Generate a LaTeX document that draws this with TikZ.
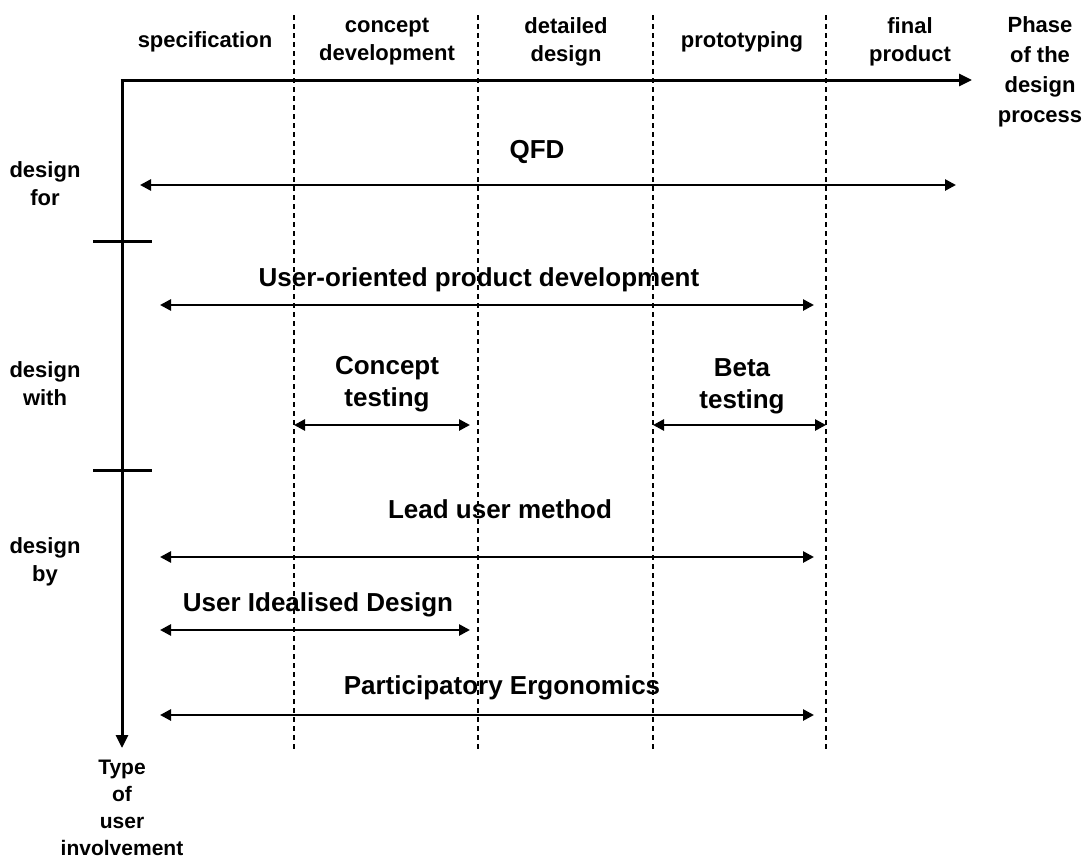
\documentclass[tikz,border=0pt]{standalone}
\usepackage{fontspec}
\setmainfont{Liberation Sans}
\usetikzlibrary{arrows.meta}
\begin{document}
\begin{tikzpicture}[x=1pt,y=-1pt,
  axis/.style={line width=3pt,-{Triangle[length=13pt,width=12pt]}},
  span/.style={line width=2.6pt,{Triangle[length=11pt,width=11pt]}-{Triangle[length=11pt,width=11pt]}},
  phase/.style={line width=2.6pt,dash pattern=on 5pt off 4pt},
  tick/.style={line width=3pt},
  small/.style={font=\fontsize{22}{28}\selectfont\bfseries,align=center,inner sep=0pt},
  big/.style={font=\fontsize{26}{32}\selectfont\bfseries,align=center,inner sep=0pt}]
\useasboundingbox (0,0) rectangle (1084,862);

% phase boundaries
\foreach \x/\n in {294/a,478/b,653/c,826/d}{
  \coordinate (t\n) at (\x,15);
  \coordinate (b\n) at (\x,750);
  \draw[phase] (t\n) -- (b\n);
}

% axes
\coordinate (o) at (122,80);
\coordinate (xend) at (972,80);
\coordinate (yend) at (122,748);
\draw[axis] ([xshift=-1.5pt]o) -- (xend);
\draw[axis] (o) -- (yend);

% separators between the kinds of involvement
\coordinate (s1l) at (93,241); \coordinate (s1r) at (152,241);
\coordinate (s2l) at (93,470); \coordinate (s2r) at (152,470);
\draw[tick] (s1l) -- (s1r);
\draw[tick] (s2l) -- (s2r);

% phase labels
\node[small] (ph1) at (205,42) {specification};
\node[small] (ph2) at (387,42) {concept\\development};
\node[small] (ph3) at (566,42) {detailed\\design};
\node[small] (ph4) at (742,42) {prototyping};
\node[small] (ph5) at (910,42) {final\\product};
\node[small,font=\fontsize{22}{30}\selectfont\bfseries] (phx) at (1040,72) {Phase\\of the\\design\\process};
\node[small,font=\fontsize{21}{27}\selectfont\bfseries] (tyx) at (122,808) {Type\\of\\user\\involvement};

% involvement labels
\node[small] (lfor) at (45,184) {design\\for};
\node[small] (lwith) at (45,384) {design\\with};
\node[small] (lby) at (45,562) {design\\by};

% methods
\coordinate (q1) at (140,185); \coordinate (q2) at (956,185);
\draw[span] (q1) -- (q2);
\node[big] (qfd) at (537,152) {QFD};

\coordinate (u1) at (160,305); \coordinate (u2) at (814,305);
\draw[span] (u1) -- (u2);
\node[big] (uop) at (479,280) {User-oriented product development};

\coordinate (c1) at (294,425); \coordinate (c2) at (470,425);
\draw[span] (c1) -- (c2);
\node[big] (ct) at (387,384) {Concept\\testing};

\coordinate (bt1) at (653,425); \coordinate (bt2) at (826,425);
\draw[span] (bt1) -- (bt2);
\node[big] (bt) at (742,386) {Beta\\testing};

\coordinate (l1) at (160,557); \coordinate (l2) at (814,557);
\draw[span] (l1) -- (l2);
\node[big] (lum) at (500,509) {Lead user method};

\coordinate (i1) at (160,630); \coordinate (i2) at (470,630);
\draw[span] (i1) -- (i2);
\node[big] (uid) at (318,605) {User Idealised Design};

\coordinate (p1) at (160,715); \coordinate (p2) at (814,715);
\draw[span] (p1) -- (p2);
\node[big] (pe) at (502,688) {Participatory Ergonomics};
\end{tikzpicture}
\end{document}
